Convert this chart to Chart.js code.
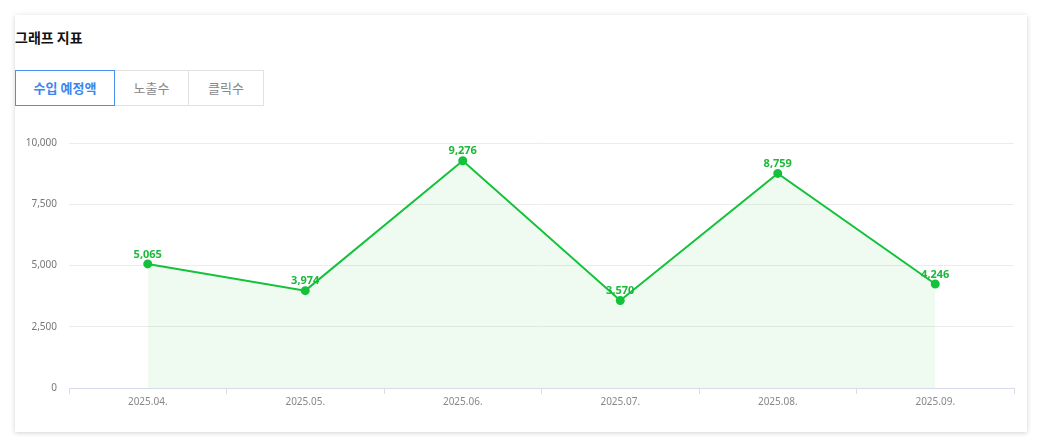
<!DOCTYPE html>
<html><head><meta charset="utf-8">
<script src="https://cdn.jsdelivr.net/npm/chart.js@4"></script>
<style>
body{margin:0;background:#fff;font-family:"Noto Sans CJK KR","Noto Sans",sans-serif;}
.card{position:absolute;left:15px;top:15px;width:1012px;height:417px;background:#fff;box-shadow:0 1px 5px rgba(0,0,0,0.18);}
h3{position:absolute;left:0;top:12px;margin:0;font-size:14px;font-weight:700;color:#111;}
.tabs{position:absolute;left:0;top:55px;display:flex;}
.tab{height:34px;line-height:34px;border:1px solid #e2e2e2;font-size:13px;color:#888;text-align:center;margin-left:-1px;}
.tab.on{border-color:#4a90f0;color:#3b87ee;font-weight:600;position:relative;z-index:1;margin-left:0;}
#wrap{position:absolute;left:0;top:100px;width:1012px;height:295px;}
</style></head><body>
<div class="card">
<h3>그래프 지표</h3>
<div class="tabs"><div class="tab on" style="width:98px">수입 예정액</div><div class="tab" style="width:73px">노출수</div><div class="tab" style="width:74px">클릭수</div></div>
<div id="wrap"><canvas id="c"></canvas></div>
</div>
<script>
const months = ["2025.04.", "2025.05.", "2025.06.", "2025.07.", "2025.08.", "2025.09."];
const revenue = [5065, 3974, 9276, 3570, 8759, 4246];
const yTicks = [0, 2500, 5000, 7500, 10000];

const labelPlugin = {
  id: "pointLabels",
  afterDatasetsDraw(chart) {
    const ctx = chart.ctx;
    const meta = chart.getDatasetMeta(0);
    ctx.save();
    ctx.font = "bold 11px 'Noto Sans', sans-serif";
    ctx.fillStyle = "#1cb83a";
    ctx.textAlign = "center";
    ctx.textBaseline = "bottom";
    meta.data.forEach((p, i) => {
      ctx.fillText(revenue[i].toLocaleString("en-US"), p.x, p.y - 4);
    });
    ctx.restore();
  }
};

new Chart(document.getElementById("c"), {
  type: "line",
  data: {
    labels: months,
    datasets: [{
      data: revenue,
      borderColor: "#13c23a",
      backgroundColor: "rgba(30,195,60,0.07)",
      fill: true,
      borderWidth: 2,
      pointRadius: 3.5,
      pointBackgroundColor: "#13c23a",
      pointBorderColor: "#13c23a",
      tension: 0
    }]
  },
  options: {
    responsive: true,
    maintainAspectRatio: false,
    animation: false,
    layout: { padding: { top: 28, right: 13, left: 0, bottom: 0 } },
    plugins: { legend: { display: false }, tooltip: { enabled: false } },
    scales: {
      x: {
        offset: true,
        grid: { offset: true, drawOnChartArea: false, tickLength: 6, color: "#d6dce8" },
        border: { color: "#d6dce8" },
        ticks: { color: "#888", font: { size: 10, family: "'Noto Sans', sans-serif" }, padding: 2 }
      },
      y: {
        min: 0, max: 10000,
        afterFit(s) { s.width = 54; },
        afterBuildTicks(s) { s.ticks = yTicks.map(v => ({ value: v })); },
        grid: { color: "#ececec", drawTicks: false },
        border: { display: false },
        ticks: { color: "#777", font: { size: 10, family: "'Noto Sans', sans-serif" }, padding: 12,
          callback: v => v.toLocaleString("en-US") }
      }
    }
  },
  plugins: [labelPlugin]
});
</script>
</body></html>
